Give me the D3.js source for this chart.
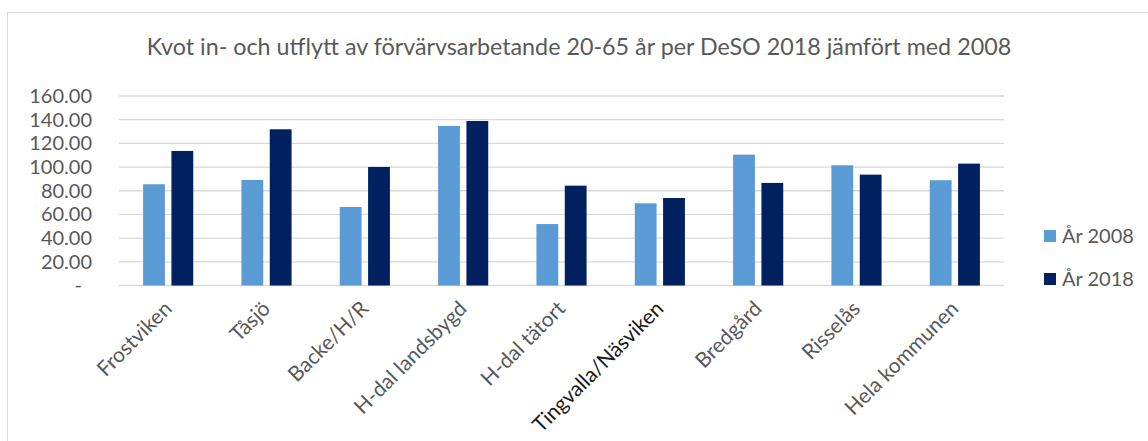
<!DOCTYPE html>
<html>
<head>
<meta charset="utf-8">
<script src="https://cdn.jsdelivr.net/npm/d3@7"></script>
<style>
  body { margin: 0; background: #fff; }
  svg { display: block; font-family: Lato, "Open Sans", sans-serif; }
</style>
</head>
<body>
<svg id="chart" width="1148" height="441"></svg>
<script>
// data
const categories = ['Frostviken', 'Tåsjö', 'Backe/H/R', 'H-dal landsbygd', 'H-dal tätort',
  'Tingvalla/Näsviken', 'Bredgård', 'Risselås', 'Hela kommunen'];
const seriesNames = ['År 2008', 'År 2018'];
const values2008 = [85.5, 89.1, 66.3, 134.7, 51.9, 69.4, 110.5, 101.5, 88.9];
const values2018 = [113.6, 131.9, 100.1, 138.9, 84.3, 73.9, 86.6, 93.6, 102.9];
const yTicks = [0, 20, 40, 60, 80, 100, 120, 140, 160];
const colors = ['#5B9BD5', '#002060'];

const title = 'Kvot in- och utflytt av förvärvsarbetande 20-65 år per DeSO 2018 jämfört med 2008';

const svg = d3.select('#chart');
const textColor = '#595959';

// chart area border
svg.append('rect')
  .attr('x', 7.5).attr('y', 12.5)
  .attr('width', 1160).attr('height', 460)
  .attr('fill', 'none')
  .attr('stroke', '#d9d9d9')
  .attr('stroke-width', 1);

svg.append('text')
  .attr('x', 579).attr('y', 55)
  .attr('text-anchor', 'middle')
  .style('font-size', '23.3px')
  .style('fill', textColor)
  .text(title);

// scales
const x0 = d3.scaleBand().domain(categories).range([119, 1004]).padding(0);
const bw = x0.bandwidth();
const x1 = d3.scaleBand().domain(seriesNames)
  .range([bw * 0.245, bw * 0.755]).paddingInner(0.23);
const y = d3.scaleLinear().domain([0, 160]).range([285.5, 96]);

// gridlines
svg.append('g')
  .selectAll('line')
  .data(yTicks)
  .join('line')
  .attr('x1', x0.range()[0]).attr('x2', x0.range()[1])
  .attr('y1', d => y(d)).attr('y2', d => y(d))
  .attr('stroke', '#d9d9d9')
  .attr('stroke-width', 1.3);

// y axis labels
const yAxis = d3.axisLeft(y)
  .tickValues(yTicks)
  .tickSize(0)
  .tickPadding(0)
  .tickFormat(d => d === 0 ? '-' : d3.format('.2f')(d));

const yg = svg.append('g')
  .attr('transform', 'translate(92,0)')
  .call(yAxis);
yg.select('.domain').remove();
yg.selectAll('text')
  .style('font-size', '20px')
  .style('font-family', 'Lato, sans-serif')
  .style('fill', textColor)
  .attr('dx', d => d === 0 ? -10 : 0);

// bars
const rows = categories.map((c, i) => ({ cat: c, vals: [values2008[i], values2018[i]] }));

const groups = svg.append('g')
  .selectAll('g')
  .data(rows)
  .join('g')
  .attr('transform', d => `translate(${x0(d.cat)},0)`);

groups.selectAll('rect')
  .data(d => d.vals.map((v, j) => ({ name: seriesNames[j], v, j })))
  .join('rect')
  .attr('x', d => x1(d.name))
  .attr('width', x1.bandwidth())
  .attr('y', d => y(d.v))
  .attr('height', d => y(0) - y(d.v))
  .attr('fill', d => colors[d.j]);

// x axis labels, rotated
svg.append('g')
  .selectAll('text')
  .data(categories)
  .join('text')
  .attr('transform', d => `translate(${x0(d) + bw / 2 + 5},310) rotate(-45)`)
  .attr('text-anchor', 'end')
  .style('font-size', '21px')
  .style('fill', d => d === 'Tingvalla/Näsviken' ? '#1a1a1a' : textColor)
  .text(d => d);

// legend
const legend = svg.append('g')
  .selectAll('g')
  .data(seriesNames)
  .join('g')
  .attr('transform', (d, i) => `translate(1044,${236 + i * 43})`);

legend.append('rect')
  .attr('x', 0).attr('y', -6)
  .attr('width', 12).attr('height', 12)
  .attr('fill', (d, i) => colors[i]);

legend.append('text')
  .attr('x', 18).attr('y', 0)
  .attr('dy', '0.35em')
  .style('font-size', '20px')
  .style('fill', textColor)
  .text(d => d);
</script>
</body>
</html>
